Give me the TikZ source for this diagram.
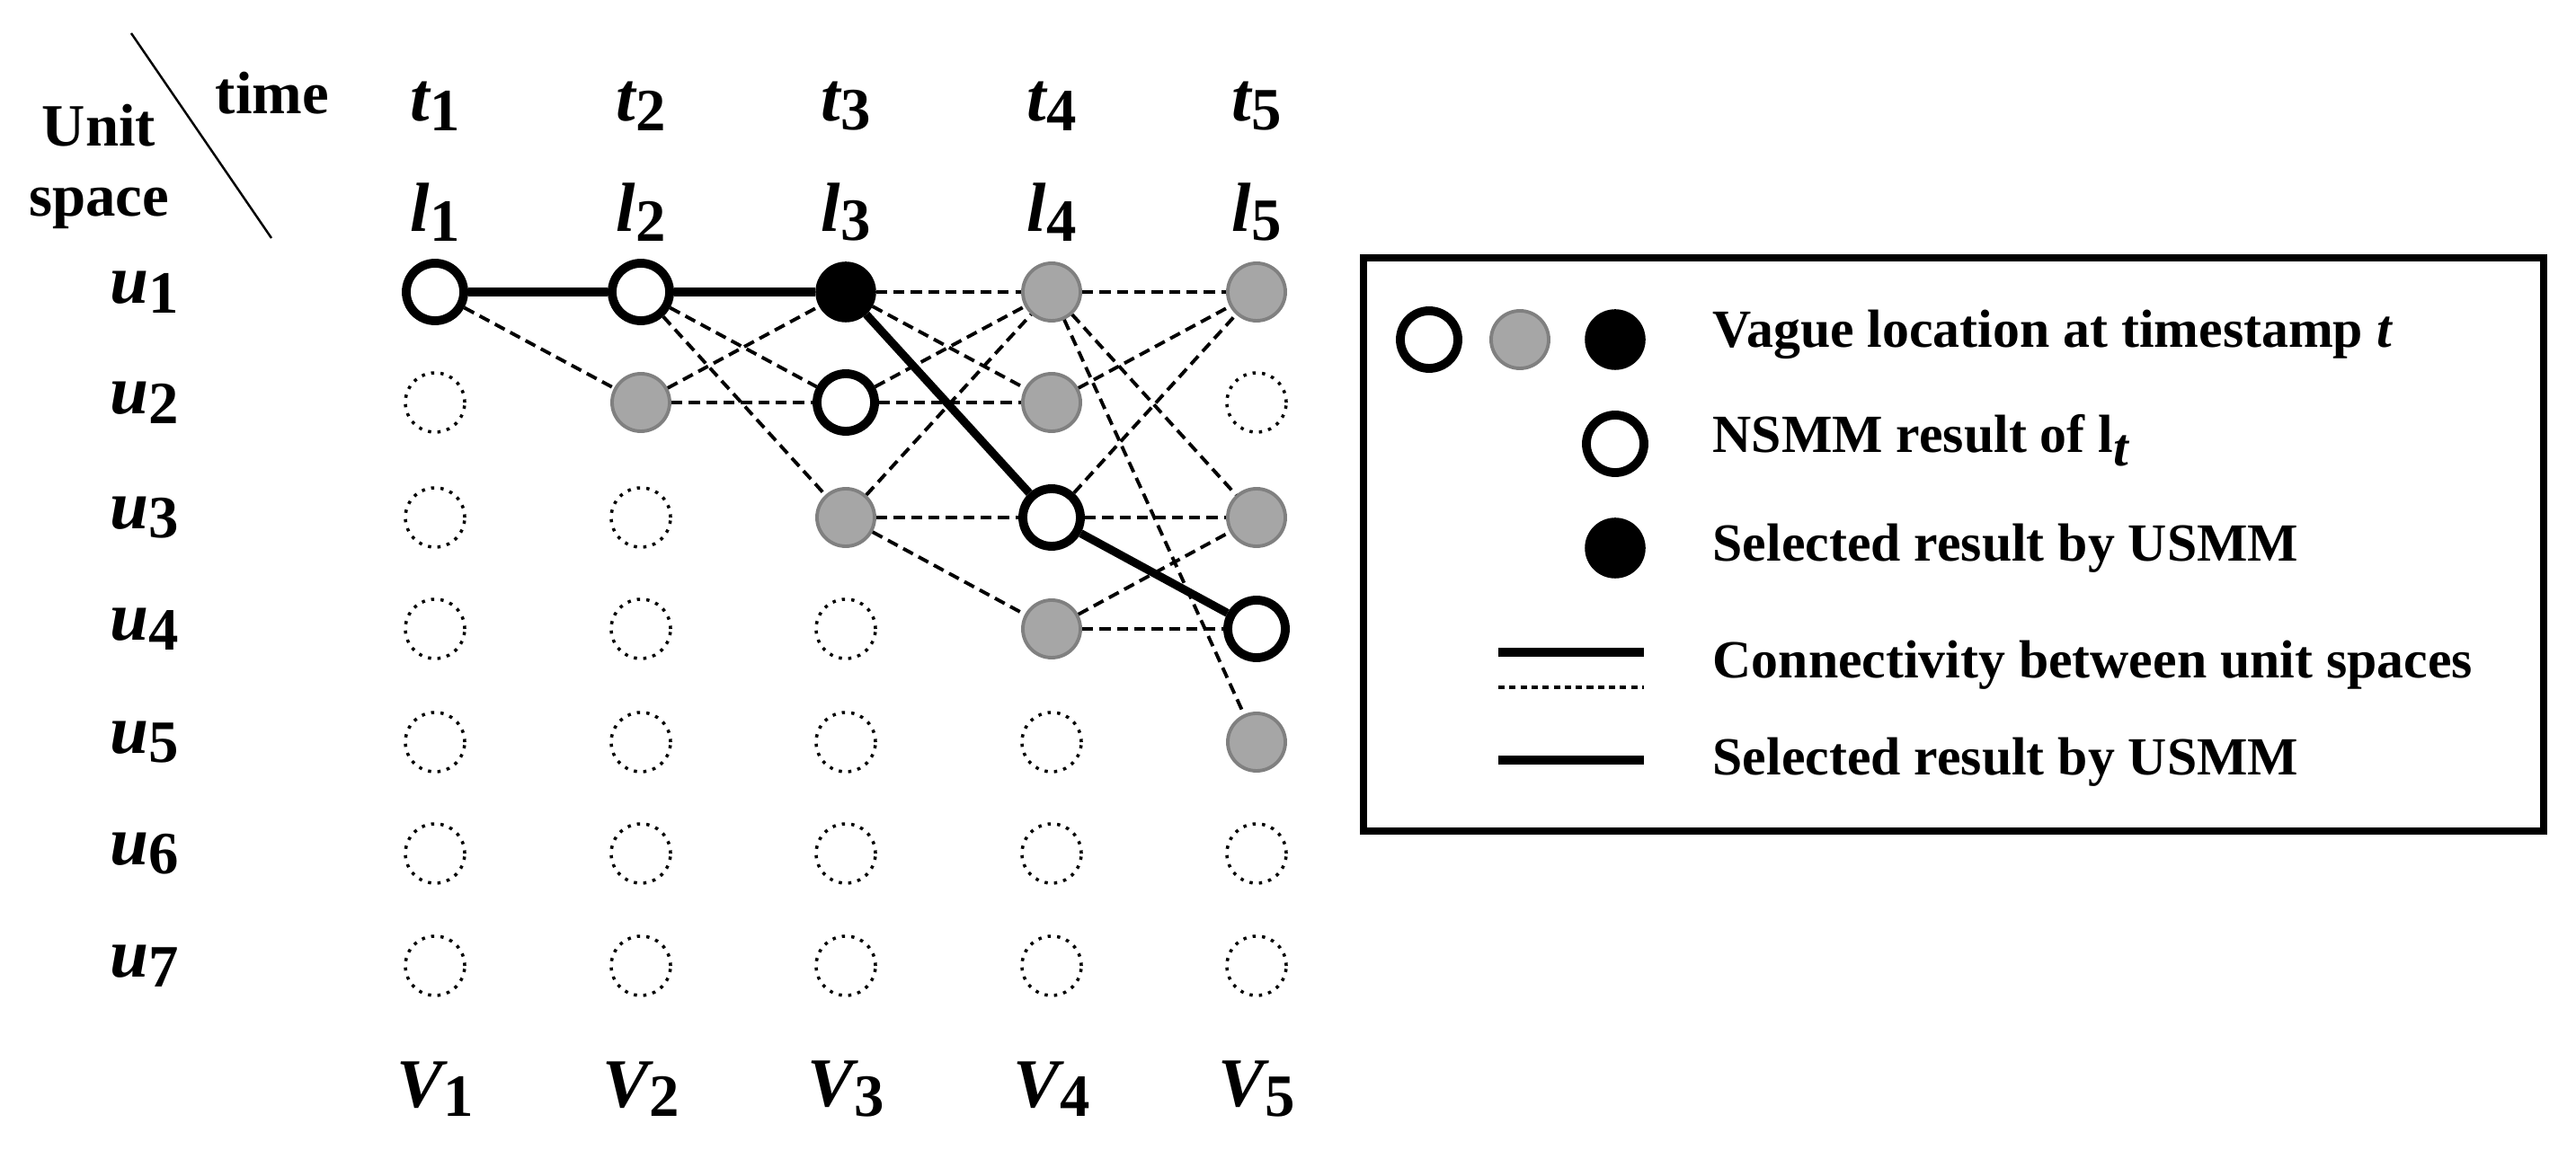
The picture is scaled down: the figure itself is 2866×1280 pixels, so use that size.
\documentclass[tikz,border=0pt]{standalone}
\usepackage{fontspec}
\setmainfont{Liberation Serif}
\newcommand{\lab}[2]{{\fontsize{22}{22}\selectfont\bfseries\itshape #1}\raisebox{-0.3em}{\fontsize{19}{19}\selectfont\bfseries #2}}
\begin{document}
\begin{tikzpicture}[x=0.01cm,y=-0.01cm,
  base/.style={circle,minimum size=0.64cm,inner sep=0pt},
  ns/.style={base,draw=black,fill=white,line width=2.8pt},
  gr/.style={base,draw=black!50,fill=black!35,line width=1.1pt},
  se/.style={base,draw=black,fill=black,line width=1pt},
  em/.style={base,draw=black,dotted,line width=1pt,minimum size=0.66cm},
  sol/.style={line width=2.6pt},
  dsh/.style={line width=1.1pt,dash pattern=on 3.5pt off 2pt},
  txt/.style={font=\fontsize{17}{17}\selectfont\bfseries,anchor=west,inner sep=0pt},
  hdr/.style={font=\fontsize{19}{19}\selectfont\bfseries,inner sep=0pt}]
\useasboundingbox (0,0) rectangle (2866,1280);
% header
\draw[line width=0.7pt] (146,37) -- (302,265);
\node[hdr] (time) at (303,104) {time};
\node[hdr] (unit) at (110,140) {Unit};
\node[hdr] (space) at (110,232) {space};
\foreach \i/\x in {1/484,2/713,3/941,4/1170,5/1398}{
  \node (t\i) at (\x,118) {\lab{t}{\i}};
  \node (l\i) at (\x,236) {\lab{l}{\i}};
  \node (V\i) at (\x,1212) {\lab{V}{\i}};
}
\foreach \r/\y in {1/325,2/448,3/576,4/700,5/826,6/950,7/1075}{
  \node (u\r) at (161,\y) {\lab{u}{\r}};
}
% grid nodes
\def\ys{{0,325,448,576,700,826,950,1075}}
\foreach \c/\x/\list in {
 1/484/{ns,em,em,em,em,em,em},
 2/713/{ns,gr,em,em,em,em,em},
 3/941/{se,ns,gr,em,em,em,em},
 4/1170/{gr,gr,ns,gr,em,em,em},
 5/1398/{gr,em,gr,ns,gr,em,em}}{
  \foreach \s [count=\r] in \list {
    \pgfmathsetmacro\yy{\ys[\r]}
    \node[\s] (n\c\r) at (\x,\yy) {};
  }
}
% dashed edges
\foreach \a/\b in {11/22, 21/32, 21/33, 22/31, 22/32, 31/41, 31/42, 32/41, 32/42,
  33/41, 33/43, 33/44, 41/51, 41/53, 41/55, 42/51, 43/51, 43/53, 44/53, 44/54}{
  \draw[dsh] (n\a) -- (n\b);
}
% solid path
\draw[sol] (n11) -- (n21);
\draw[sol] (n21) -- (n31);
\draw[sol] (n31) -- (n43);
\draw[sol] (n43) -- (n54);
% legend
\draw[line width=2.2pt] (1517,287) rectangle (2830,925);
\node[ns] (k1) at (1590,378) {};
\node[gr] (k2) at (1691,378) {};
\node[se] (k3) at (1797,378) {};
\node[txt] (kt1) at (1905,372) {Vague location at timestamp \textit{t}};
\node[ns] (k4) at (1797,494) {};
\node[txt] (kt2) at (1905,490) {NSMM result of l\raisebox{-0.25em}{\textit{t}}};
\node[se] (k5) at (1797,610) {};
\node[txt] (kt3) at (1905,610) {Selected result by USMM};
\coordinate (a1) at (1667,726); \coordinate (a2) at (1829,726);
\coordinate (b1) at (1667,765); \coordinate (b2) at (1829,765);
\coordinate (c1) at (1667,846); \coordinate (c2) at (1829,846);
\draw[sol] (a1) -- (a2);
\draw[line width=0.9pt,dash pattern=on 2pt off 1.5pt] (b1) -- (b2);
\draw[sol] (c1) -- (c2);
\node[txt] (kt4) at (1905,740) {Connectivity between unit spaces};
\node[txt] (kt5) at (1905,848) {Selected result by USMM};
\end{tikzpicture}
\end{document}
